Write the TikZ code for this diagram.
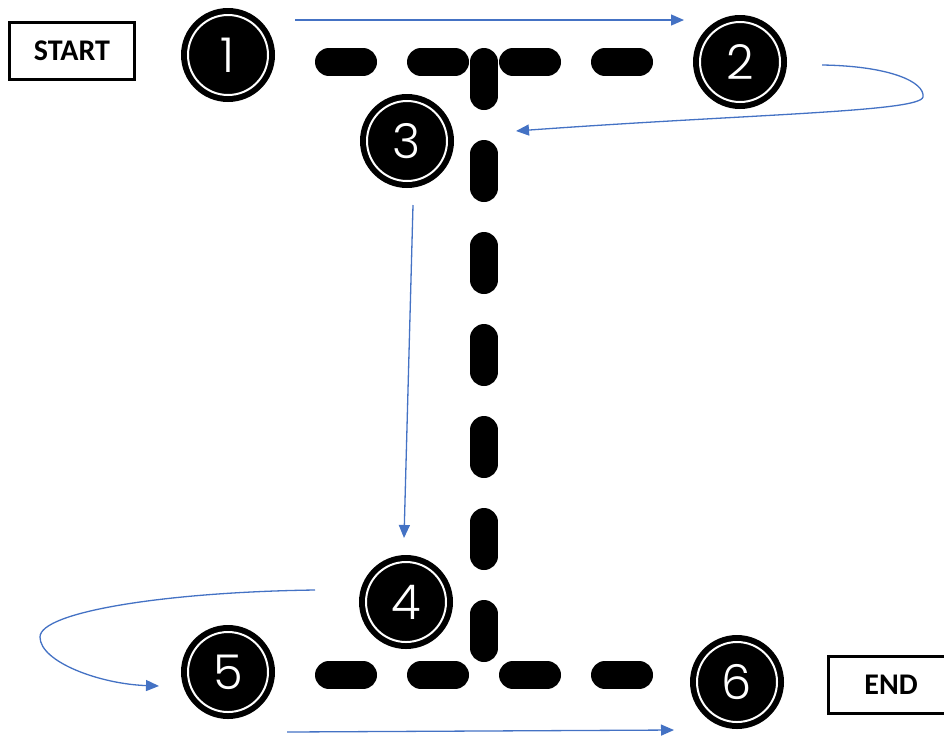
\documentclass[tikz,border=0pt]{standalone}
\usepackage{fontspec}
\usepackage{xcolor}
\usepackage{tikz}
\usetikzlibrary{arrows.meta}
\newfontfamily\numfont{Poppins Light}
\newfontfamily\boxfont{Carlito}
\definecolor{flow}{RGB}{68,114,196}

\begin{document}
\begin{tikzpicture}[x=1pt, y=-1pt,
                    num/.style={circle, fill=black, inner sep=0pt,
                    minimum size=94pt, text=white,
                    font=\numfont\fontsize{48}{48}\selectfont,
                    path picture={\draw[white, line width=2pt]
                        (path picture bounding box.center) circle (40pt);}},
                    lbl/.style={rectangle, draw, line width=3pt,
                    minimum width=125pt, minimum height=57pt,
                    font=\boxfont\bfseries\fontsize{30}{30}\selectfont},
                    dsh/.style={line width=28pt, line cap=round,
                    dash pattern=on 34pt off 58pt},
                    flw/.style={flow, line width=1.3pt,
                    -{Triangle[length=13pt, width=11pt]}}]
    \useasboundingbox (0,0) rectangle (944,740);
    \draw[dsh] (329,62) -- (639,62);
    \draw[dsh] (484,62) -- (484,648);
    \draw[dsh] (329,675) -- (639,675);

    \node[lbl](nstart) at (72,51) {START};
    \node[lbl](nend) at (891,685) {END};
    \node[num](n1) at (228,55) {1};
    \node[num](n2) at (740,62) {2};
    \node[num](n3) at (407,141) {3};
    \node[num](n4) at (406,602) {4};
    \node[num](n5) at (228,672) {5};
    \node[num](n6) at (737,682) {6};

    \coordinate (a1) at (295,20);  \coordinate (a2) at (684,20);
    \coordinate (b1) at (822,65);  \coordinate (b2) at (516,131);
    \coordinate (c1) at (413,205); \coordinate (c2) at (404,538);
    \coordinate (d1) at (315,590); \coordinate (d2) at (159,686);
    \coordinate (e1) at (287,732); \coordinate (e2) at (674,730);
    \draw[flw] (a1) -- (a2);
    \draw[flw] (b1) .. controls (890,66) and (925,82) .. (923,97)
                    .. controls (920,112) and (750,114) .. (b2);
    \draw[flw] (c1) -- (c2);
    \draw[flw] (d1) .. controls (165,592) and (40,612) .. (40,637)
                    .. controls (40,662) and (100,684) .. (d2);
    \draw[flw] (e1) -- (e2);
\end{tikzpicture}
\end{document}
